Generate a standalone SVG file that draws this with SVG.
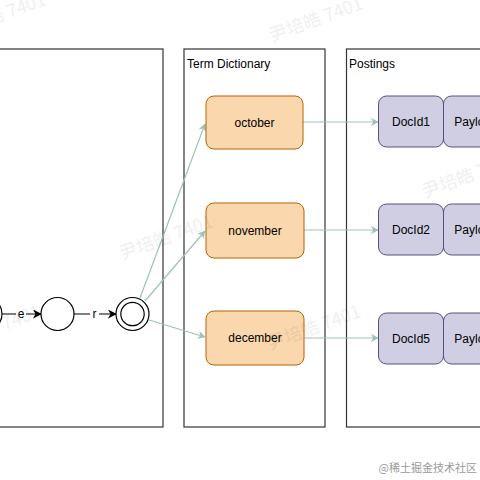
<svg xmlns="http://www.w3.org/2000/svg" width="480" height="480" viewBox="0 0 480 480">
<style>
.box{fill:none;stroke:#333;stroke-width:1.2}
.term{fill:#fad7ac;stroke:#b46504;stroke-width:1}
.post{fill:#d0cee2;stroke:#56517e;stroke-width:1}
.st{fill:#fff;stroke:#000;stroke-width:1.2}
.t{font-family:"Liberation Sans",Arial,sans-serif;font-size:12px;fill:#000}
.c{text-anchor:middle;dominant-baseline:central}
.g{stroke:#9fc1b7;stroke-width:1.2;fill:none}
.k{stroke:#000;stroke-width:1.2;fill:none}
.wm{font-family:"Noto Sans CJK SC","Liberation Sans",sans-serif;font-size:18px;fill:#000;opacity:0.06}
</style>
<defs>
<marker id="ag" viewBox="0 0 10 10" refX="9" refY="5" markerWidth="8" markerHeight="8" markerUnits="userSpaceOnUse" orient="auto">
<path d="M0,0 L10,5 L0,10 L3,5 Z" fill="#9fc1b7"/>
</marker>
<marker id="ak" viewBox="0 0 10 10" refX="9" refY="5" markerWidth="9" markerHeight="9" markerUnits="userSpaceOnUse" orient="auto">
<path d="M0,0 L10,5 L0,10 L3,5 Z" fill="#000"/>
</marker>
</defs>
<rect width="480" height="480" fill="#fff"/>

<g id="fst-box"><rect class="box" x="-2" y="49" width="165" height="378"/></g>
<g id="term-dictionary"><rect class="box" x="184" y="49" width="141" height="378"/><text class="t" x="187" y="68">Term Dictionary</text></g>
<g id="postings"><rect class="box" x="346.5" y="49" width="140" height="378"/><text class="t" x="349" y="68">Postings</text></g>

<g id="connectors">
<line class="k" x1="2" y1="314" x2="41" y2="314" marker-end="url(#ak)"/>
<line class="k" x1="74" y1="314" x2="116" y2="314" marker-end="url(#ak)"/>
<line class="g" x1="140" y1="298" x2="205" y2="124" marker-end="url(#ag)"/>
<line class="g" x1="145" y1="301" x2="205" y2="231" marker-end="url(#ag)"/>
<line class="g" x1="149" y1="320" x2="205" y2="337" marker-end="url(#ag)"/>
<line class="g" x1="303" y1="122" x2="378" y2="122" marker-end="url(#ag)"/>
<line class="g" x1="304" y1="230" x2="378" y2="230" marker-end="url(#ag)"/>
<line class="g" x1="304" y1="338" x2="378" y2="338" marker-end="url(#ag)"/>
<rect x="16" y="306" width="10" height="16" fill="#fff"/>
<text class="t c" x="21" y="314">e</text>
<rect x="90" y="306" width="9" height="16" fill="#fff"/>
<text class="t c" x="94.5" y="314">r</text>
</g>

<g id="state-0"><circle class="st" cx="-14.5" cy="314" r="16.5"/></g>
<g id="state-1"><circle class="st" cx="57.5" cy="314" r="16.5"/></g>
<g id="state-2"><circle class="st" cx="132.5" cy="314" r="16.5"/><circle class="st" cx="132.5" cy="314" r="11.7"/></g>

<g id="october"><rect class="term" x="206" y="96" width="97" height="53" rx="8"/><text class="t c" x="254.5" y="122.5">october</text></g>
<g id="november"><rect class="term" x="206" y="203" width="98" height="55" rx="8"/><text class="t c" x="255" y="230.5">november</text></g>
<g id="december"><rect class="term" x="206" y="311" width="98" height="54" rx="8"/><text class="t c" x="255" y="338">december</text></g>

<g id="docid1"><rect class="post" x="378.5" y="96" width="65" height="51" rx="8"/><text class="t c" x="411" y="121.5">DocId1</text></g>
<g id="payload1"><rect class="post" x="443.5" y="96" width="65" height="51" rx="8"/><text class="t c" x="476" y="121.5">Payload</text></g>
<g id="docid2"><rect class="post" x="378.5" y="204" width="65" height="51" rx="8"/><text class="t c" x="411" y="229.5">DocId2</text></g>
<g id="payload2"><rect class="post" x="443.5" y="204" width="65" height="51" rx="8"/><text class="t c" x="476" y="229.5">Payload</text></g>
<g id="docid5"><rect class="post" x="378.5" y="313" width="65" height="51" rx="8"/><text class="t c" x="411" y="338.5">DocId5</text></g>
<g id="payload5"><rect class="post" x="443.5" y="313" width="65" height="51" rx="8"/><text class="t c" x="476" y="338.5">Payload</text></g>

<g id="watermarks">
<text class="wm" transform="translate(-45,38) rotate(-20)">尹培皓 7401</text>
<text class="wm" transform="translate(272,42) rotate(-20)">尹培皓 7401</text>
<text class="wm" transform="translate(122,260) rotate(-20)">尹培皓 7401</text>
<text class="wm" transform="translate(425,198) rotate(-20)">尹培皓 7401</text>
<text class="wm" transform="translate(270,350) rotate(-20)">尹培皓 7401</text>
<text class="wm" transform="translate(-50,350) rotate(-20)">尹培皓 7401</text>
</g>
<text x="477" y="472" text-anchor="end" style="font-family:'Noto Sans CJK SC','Liberation Sans',sans-serif;font-size:11px;fill:#9a9a9a">@稀土掘金技术社区</text>
</svg>
